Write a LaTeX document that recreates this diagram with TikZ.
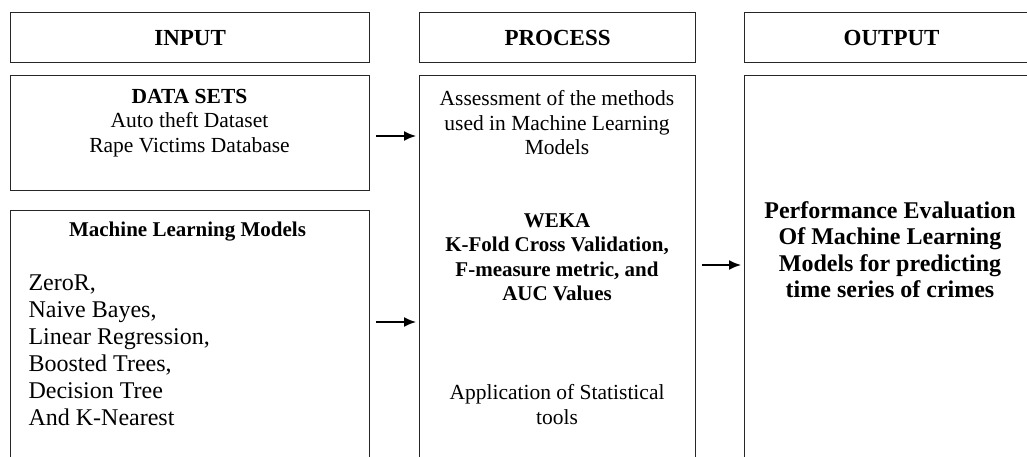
\documentclass[tikz,border=0pt]{standalone}
\usepackage{fontspec}
\setmainfont{Liberation Serif}
\usetikzlibrary{arrows.meta}

\begin{document}
\begin{tikzpicture}[x=1pt,y=-1pt,
    box/.style={draw=black!85,line width=1.2pt,inner sep=0pt,anchor=north west},
    headtext/.style={font=\fontsize{23}{27}\selectfont\bfseries},
    bodytext/.style={align=center,font=\fontsize{21.5}{24.5}\selectfont},
    link/.style={-{Latex[length=12pt,width=10pt]},line width=1.6pt,shorten <=6pt,shorten >=3pt}]
    \useasboundingbox (0,0) rectangle (1027,457);
    \clip (0,0) rectangle (1027,457);
    % column headers
    \node[box,headtext,minimum width=359pt,minimum height=50pt] (inhead) at (10,12) {INPUT};
    \node[box,headtext,minimum width=276pt,minimum height=50pt] (prochead) at (419,12) {PROCESS};
    \node[box,headtext,minimum width=294pt,minimum height=50pt] (outhead) at (744,12) {OUTPUT};
    % boxes below the headers
    \node[box,minimum width=359pt,minimum height=115pt] (data) at (10,75) {};
    \node[box,minimum width=359pt,minimum height=260pt] (ml) at (10,210) {};
    \node[box,minimum width=276pt,minimum height=395pt] (proc) at (419,75) {};
    \node[box,minimum width=294pt,minimum height=395pt] (out) at (744,75) {};
    % input texts
    \node[bodytext] (datatext) at (189.5,123) {\textbf{DATA SETS}\\Auto theft Dataset\\Rape Victims Database};
    \node[font=\fontsize{21}{24}\selectfont\bfseries] (mltitle) at (187.5,232) {Machine Learning Models};
    \node[anchor=west,align=left,font=\fontsize{24}{27}\selectfont] (mllist) at (25,350.5)
        {ZeroR,\\Naive Bayes,\\Linear Regression,\\Boosted Trees,\\Decision Tree\\And K-Nearest};
    % process texts
    \node[bodytext] (assess) at (557,123) {Assessment of the methods\\used in Machine Learning\\Models};
    \node[bodytext,font=\fontsize{21}{24.5}\selectfont\bfseries] (weka) at (557,257)
        {WEKA\\K-Fold Cross Validation,\\F-measure metric, and\\AUC Values};
    \node[bodytext] (stat) at (557,404.5) {Application of Statistical\\tools};
    % output text
    \node[align=center,font=\fontsize{24}{26.5}\selectfont\bfseries] (result) at (890,249.5)
        {Performance Evaluation\\Of Machine Learning\\Models for predicting\\time series of crimes};
    % arrows
    \draw[link] ([yshift=-61pt]data.north east) -- ([yshift=-61pt]data.north east -| proc.west);
    \draw[link] ([yshift=-112pt]ml.north east) -- ([yshift=-112pt]ml.north east -| proc.west);
    \draw[link] ([yshift=-190pt]proc.north east) -- ([yshift=-190pt]proc.north east -| out.west);
\end{tikzpicture}
\end{document}
